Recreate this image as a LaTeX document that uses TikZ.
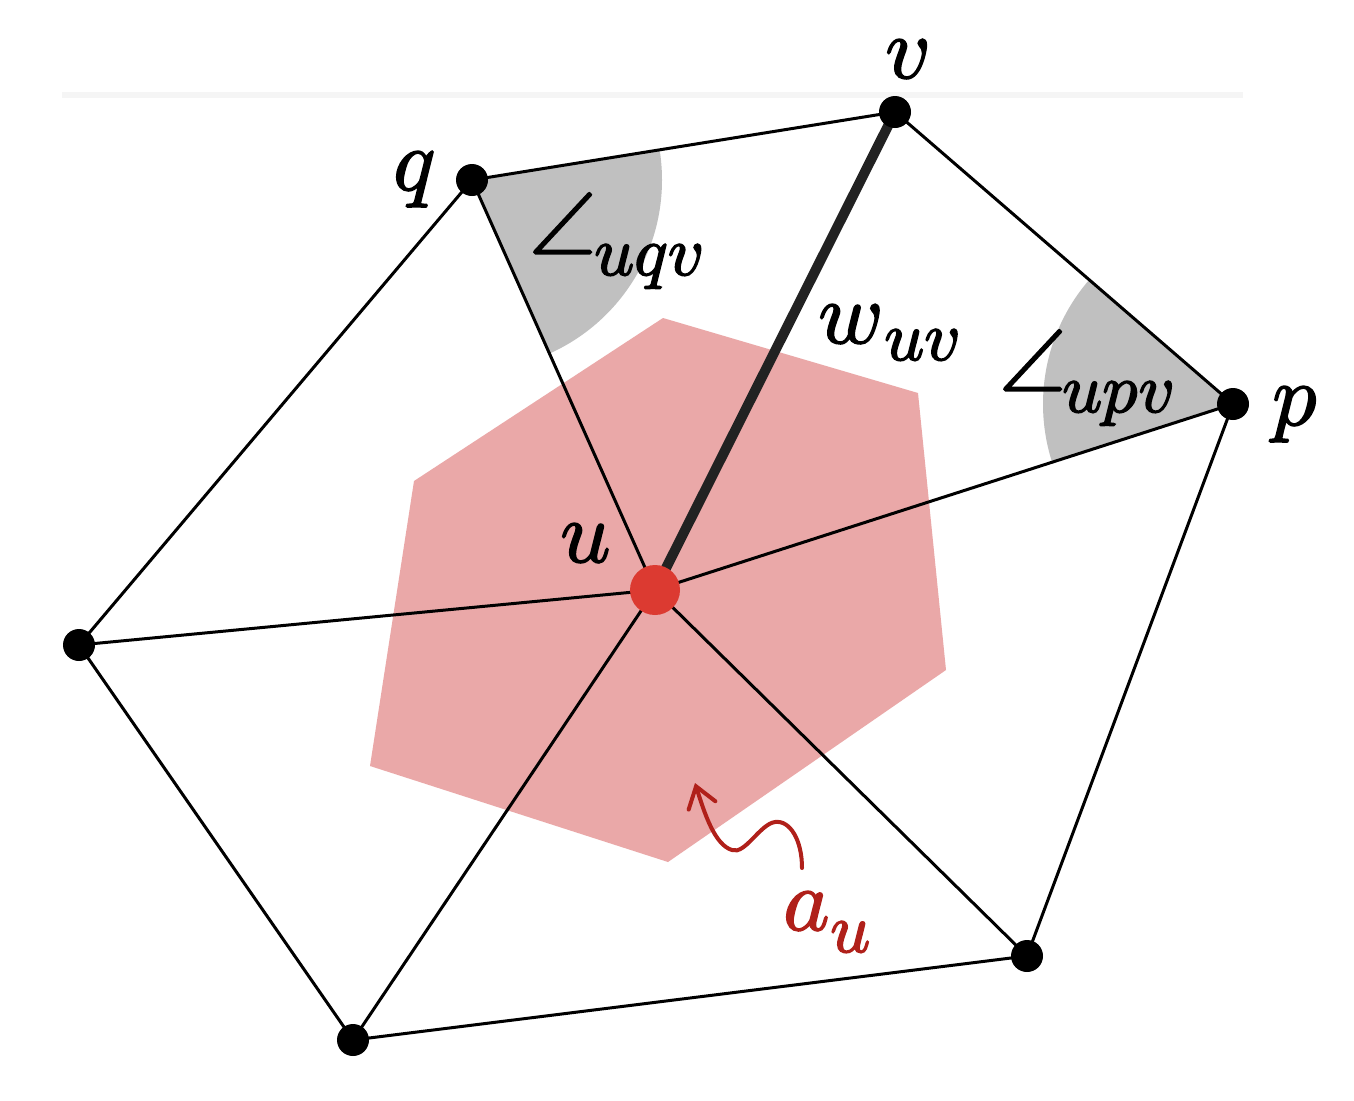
\documentclass[tikz,border=0pt]{standalone}
\usepackage{unicode-math}
\setmathfont{Latin Modern Math}
\usetikzlibrary{arrows.meta}
\definecolor{hexfill}{HTML}{EAA8A8}
\definecolor{wedgegray}{HTML}{C0C0C0}
\definecolor{udot}{HTML}{DC3A31}
\definecolor{aured}{HTML}{B0201A}
\definecolor{thickedge}{HTML}{222222}
\definecolor{faintbar}{HTML}{F5F5F5}
\newcommand\heavytext[1]{\special{pdf:literal direct 2 Tr 1.6 w}#1\special{pdf:literal direct 0 Tr}}
\begin{document}
\begin{tikzpicture}[x=1pt,y=-1pt,
  edge/.style={line width=3pt,line cap=round},
  vdot/.style={circle,fill=black,minimum size=32pt,inner sep=0pt},
  udotstyle/.style={circle,fill=udot,minimum size=50pt,inner sep=0pt},
  lbl/.style={inner sep=0pt,anchor=base west,font=\fontsize{88}{90}\selectfont},
  sublbl/.style={inner sep=0pt,anchor=base west,font=\fontsize{70}{72}\selectfont},
  anglbl/.style={inner sep=0pt,anchor=base west,font=\fontsize{86}{88}\selectfont}]
\useasboundingbox (0,0) rectangle (1354,1100);
\fill[white] (0,0) rectangle (1354,1100);
% faint bar
\draw[faintbar,line width=6pt] (62,95) -- (1243,95);
% coordinates
\coordinate (u) at (655,590);
\coordinate (v) at (895,112);
\coordinate (q) at (472,180);
\coordinate (p) at (1233,404);
\coordinate (l) at (79,645);
\coordinate (bl) at (353,1040);
\coordinate (br) at (1027,956);
% hexagon area
\fill[hexfill] (663,318)--(918,393)--(946,670)--(668,862)--(370,766)--(414,481)--cycle;
% angle wedges
\begin{scope}
  \clip (q)--(v)--(u)--cycle;
  \fill[wedgegray] (q) circle[radius=190pt];
\end{scope}
\begin{scope}
  \clip (p)--(v)--(u)--cycle;
  \fill[wedgegray] (p) circle[radius=190pt];
\end{scope}
% edges
\draw[edge] (q)--(v)--(p)--(br)--(bl)--(l)--cycle;
\draw[edge] (u)--(q);
\draw[edge] (u)--(p);
\draw[edge] (u)--(l);
\draw[edge] (u)--(bl);
\draw[edge] (u)--(br);
\draw[thickedge,line width=10pt] (u)--(v);
% vertices
\node[vdot] (nv) at (v) {};
\node[vdot] (nq) at (q) {};
\node[vdot] (np) at (p) {};
\node[vdot] (nl) at (l) {};
\node[vdot] (nbl) at (bl) {};
\node[vdot] (nbr) at (br) {};
\node[udotstyle] (nu) at (u) {};
% arrow
\coordinate (arrstart) at (802,868);
\coordinate (arrend) at (695,783);
\draw[aured,line width=4pt,line cap=round,-{Straight Barb[length=20pt,width=28pt,line cap=round]}]
  (arrstart) .. controls (802,840) and (790,820) .. (775,822)
  .. controls (760,824) and (745,855) .. (732,850)
  .. controls (715,845) and (705,815) .. (arrend);
% labels
\node[lbl] (lv) at (885,78) {\heavytext{$v$}};
\node[lbl] (lq) at (393,190) {\heavytext{$q$}};
\node[lbl] (lp) at (1272,425) {\heavytext{$p$}};
\node[lbl] (lu) at (560,562) {\heavytext{$u$}};
\node[lbl] (lw) at (818,343) {\heavytext{$w$}};
\node[sublbl] (luv) at (884,360) {\heavytext{$uv$}};
\node[anglbl] (lang1) at (529,255) {\heavytext{$\angle$}};
\node[sublbl] (luqv) at (594,275) {\heavytext{$uqv$}};
\node[anglbl] (lang2) at (999,392) {\heavytext{$\angle$}};
\node[sublbl] (lupv) at (1062,412) {\heavytext{$upv$}};
\node[lbl,text=aured] (la) at (783,930) {\heavytext{$a$}};
\node[sublbl,text=aured] (lau) at (830,952) {\heavytext{$u$}};
\end{tikzpicture}
\end{document}
